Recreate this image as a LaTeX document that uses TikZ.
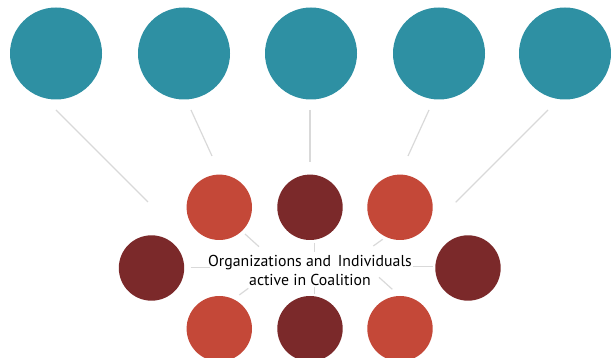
\documentclass[tikz,border=0pt]{standalone}
\usepackage{fontspec}
\setmainfont{PT Sans}
\definecolor{teal1}{HTML}{2E90A3}
\definecolor{red1}{HTML}{C44838}
\definecolor{dark1}{HTML}{7B292A}
\definecolor{line1}{HTML}{D9D9D9}
\begin{document}
\begin{tikzpicture}[x=1pt,y=-1pt,
  big/.style={circle,fill=teal1,minimum size=92pt,inner sep=0pt},
  small/.style={circle,minimum size=65.4pt,inner sep=0pt},
  lite/.style={small,fill=red1},
  deep/.style={small,fill=dark1},
  conn/.style={draw=line1,line width=1.2pt}]
\useasboundingbox (0,0) rectangle (611,358);
% top circles
\node[big] (t1) at (56,53.5) {};
\node[big] (t2) at (184,53.5) {};
\node[big] (t3) at (311,53.5) {};
\node[big] (t4) at (439,53.5) {};
\node[big] (t5) at (565,53.5) {};
% small circles
\node[lite] (s1) at (219.3,207.3) {};
\node[deep] (s2) at (310,207.3) {};
\node[lite] (s3) at (400,207.3) {};
\node[deep] (s4) at (151.5,268) {};
\node[deep] (s5) at (468,268) {};
\node[lite] (s6) at (219.3,328.7) {};
\node[deep] (s7) at (310,328.7) {};
\node[lite] (s8) at (400,328.7) {};
% label
\node[font=\fontsize{15.8}{18.5}\selectfont,align=center,inner sep=0pt] (lab) at (310,270.5) {Organizations and\, Individuals\\active in Coalition};
% upper connectors
\coordinate (a1) at (56,110);  \coordinate (b1) at (148,202);
\coordinate (a2) at (191,110); \coordinate (b2) at (212,156);
\coordinate (a3) at (310,110); \coordinate (b3) at (310,162);
\coordinate (a4) at (429,110); \coordinate (b4) at (408,156);
\coordinate (a5) at (548,110); \coordinate (b5) at (455.7,202.3);
\foreach \i in {1,...,5} \draw[conn] (a\i) -- (b\i);
% inner connectors
\coordinate (c1) at (245,234);     \coordinate (d1) at (259,246.7);
\coordinate (c2) at (314.5,243);   \coordinate (d2) at (314.5,251.7);
\coordinate (c3) at (382.7,239.3); \coordinate (d3) at (373.3,246);
\coordinate (c4) at (190.7,267.3); \coordinate (d4) at (210,267.3);
\coordinate (c5) at (413.3,266.7); \coordinate (d5) at (432.7,266.7);
\coordinate (c6) at (239.3,295);   \coordinate (d6) at (248.3,288.3);
\coordinate (c7) at (314.5,287);   \coordinate (d7) at (314.5,294);
\coordinate (c8) at (379,277.3);   \coordinate (d8) at (392.3,289.3);
\foreach \i in {1,...,8} \draw[conn] (c\i) -- (d\i);
\end{tikzpicture}
\end{document}
